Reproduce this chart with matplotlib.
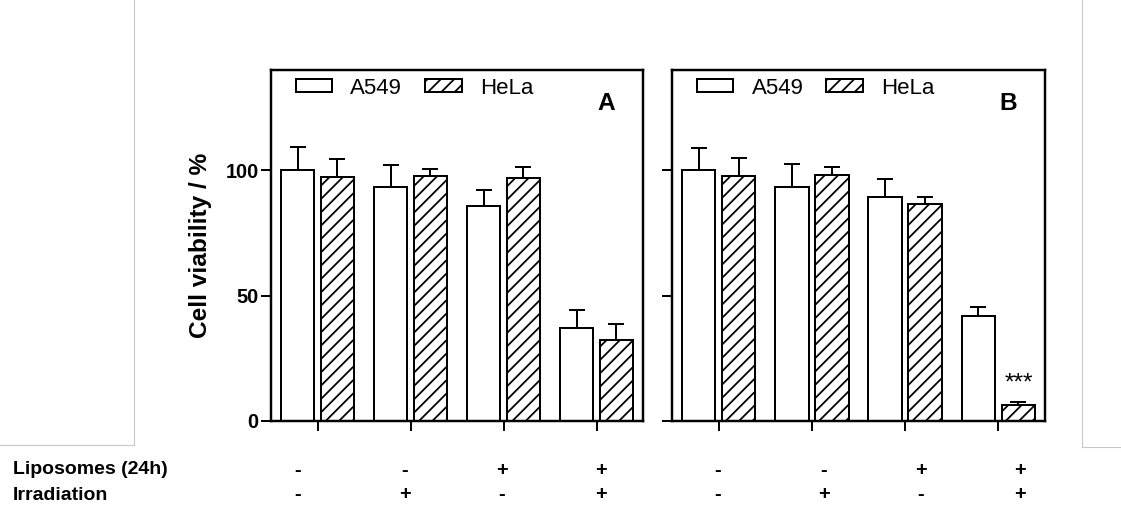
import numpy as np
import matplotlib
matplotlib.use("Agg")
import matplotlib.pyplot as plt
from matplotlib.patches import Patch
from matplotlib.lines import Line2D

# ---- data -------------------------------------------------------------
groups = np.arange(4)
liposomes = ["-", "-", "+", "+"]
irradiation = ["-", "+", "-", "+"]
yticks = [0, 50, 100]
series_names = ["A549", "HeLa"]

# Panel A
a549_A = [100.0, 93.3, 85.6, 36.9]
a549_A_err = [9.1, 9.0, 6.7, 7.4]
hela_A = [97.5, 97.7, 96.8, 32.4]
hela_A_err = [7.0, 3.0, 4.7, 6.4]

# Panel B
a549_B = [100.0, 93.4, 89.4, 42.0]
a549_B_err = [9.0, 9.0, 7.0, 3.5]
hela_B = [97.8, 98.2, 86.7, 6.4]
hela_B_err = [7.0, 3.0, 2.5, 1.2]

# ---- style ------------------------------------------------------------
DPI = 80
W, H = 1121, 510
plt.rcParams.update({
    "font.family": ["Liberation Sans", "DejaVu Sans"],
    "hatch.linewidth": 1.6,
    "hatch.color": "black",
})

fig = plt.figure(figsize=(W / DPI, H / DPI), dpi=DPI)
fig.patch.set_facecolor("white")


def px_rect(l, t, r, b):
    return [l / W, 1 - b / H, (r - l) / W, (b - t) / H]


def fx(x):
    return x / W


def fy(y):
    return 1 - y / H


BAR_W = 0.36
OFF = 0.215
LW = 1.8
HATCH = "//"


def draw_panel(ax, a549, a549_err, hela, hela_err, letter, show_ylabels):
    xa = groups - OFF
    xh = groups + OFF
    ax.bar(xa, a549, width=BAR_W, facecolor="white", edgecolor="black",
           linewidth=LW, zorder=2)
    ax.bar(xh, hela, width=BAR_W, facecolor="white", edgecolor="black",
           linewidth=LW, hatch=HATCH, zorder=2)
    for x, v, e in ((xa, a549, a549_err), (xh, hela, hela_err)):
        ax.errorbar(x, v, yerr=[np.zeros(len(e)), e], fmt="none",
                    ecolor="black", elinewidth=LW, capsize=7.0,
                    capthick=LW, zorder=3)

    ax.set_xlim(-0.5, 3.5)
    ax.set_ylim(0, 140)
    ax.set_xticks(groups)
    ax.set_xticklabels([])
    ax.set_yticks(yticks)
    if show_ylabels:
        ax.set_yticklabels([str(t) for t in yticks], fontsize=18,
                           fontweight="bold")
    else:
        ax.set_yticklabels([])
    ax.tick_params(axis="both", direction="out", length=9, width=LW,
                   pad=2, color="black")
    for s in ax.spines.values():
        s.set_linewidth(2.2)
        s.set_color("black")

    handles = [
        Patch(facecolor="white", edgecolor="black", linewidth=LW),
        Patch(facecolor="white", edgecolor="black", linewidth=LW,
              hatch=HATCH),
    ]
    ax.legend(handles, series_names, loc="upper left",
              bbox_to_anchor=(0.066, 0.978), ncol=2, frameon=False,
              fontsize=20, handlelength=1.63, handleheight=0.54,
              handletextpad=0.84, columnspacing=1.04, borderpad=0,
              borderaxespad=0)
    ax.text(0.90, 0.905, letter, transform=ax.transAxes, ha="center",
            va="center", fontsize=22, fontweight="bold")


axA = fig.add_axes(px_rect(271, 70, 643, 421))
axB = fig.add_axes(px_rect(672, 70, 1045, 421))

draw_panel(axA, a549_A, a549_A_err, hela_A, hela_A_err, "A", True)
draw_panel(axB, a549_B, a549_B_err, hela_B, hela_B_err, "B", False)

axA.set_ylabel("Cell viability / %", fontsize=22, fontweight="bold")
axA.yaxis.set_label_coords(-0.158, 0.5)

# significance mark over the last HeLa bar of panel B
axB.text(groups[3] + OFF, hela_B[3] + hela_B_err[3] + 5.0, "***",
         ha="center", va="baseline", fontsize=22)

# ---- treatment table under the panels ---------------------------------
row_y = [470, 495]
fig.text(fx(13), fy(row_y[0]), "Liposomes (24h)", ha="left", va="center",
         fontsize=17.5, fontweight="bold")
fig.text(fx(13), fy(row_y[1]), "Irradiation", ha="left", va="center",
         fontsize=17.5, fontweight="bold")
sign_x = [[298, 405, 502, 601], [718, 824, 921, 1020]]
for xs in sign_x:
    for x, lip, irr in zip(xs, liposomes, irradiation):
        fig.text(fx(x), fy(row_y[0]), lip, ha="center", va="center",
                 fontsize=18, fontweight="bold")
        fig.text(fx(x), fy(row_y[1]), irr, ha="center", va="center",
                 fontsize=18, fontweight="bold")

# thin grey page borders
grey = "#c8c8c8"
for xs, ys in (([134, 134], [0, 445]), ([0, 134], [445, 445]),
               ([1082, 1082], [0, 447]), ([1082, 1121], [447, 447])):
    fig.add_artist(Line2D([fx(v) for v in xs], [fy(v) for v in ys],
                          color=grey, linewidth=1.0))

fig.savefig("out.png", dpi=DPI, facecolor="white")
